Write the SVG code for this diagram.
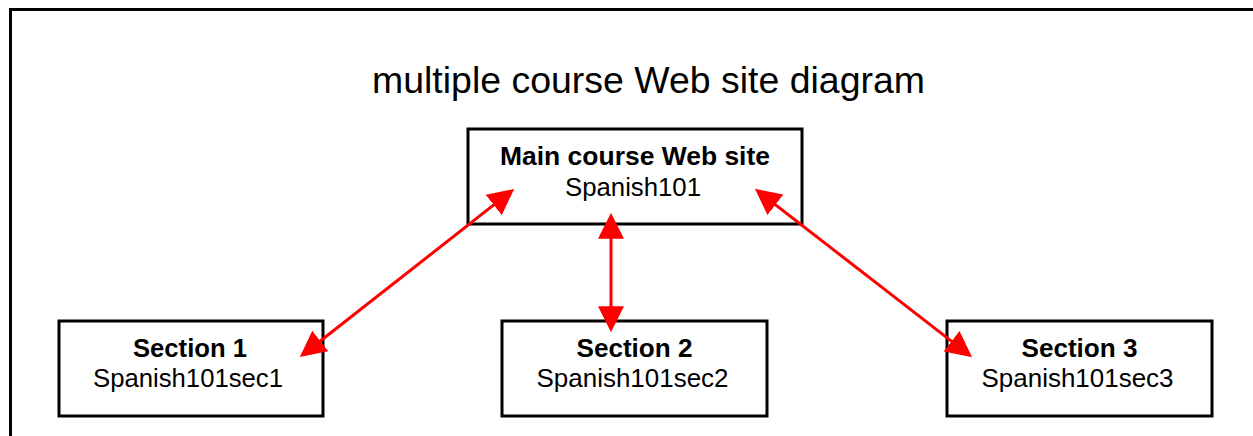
<svg xmlns="http://www.w3.org/2000/svg" width="1253" height="436" viewBox="0 0 1253 436">
  <style>
    .frame { fill: none; stroke: #000; stroke-width: 3; }
    .box { fill: #fff; stroke: #000; stroke-width: 3; }
    .t { font-family: "Liberation Sans", Arial, sans-serif; fill: #000; text-anchor: middle; }
    .title { font-size: 36px; }
    .bold { font-size: 25px; font-weight: bold; }
    .reg { font-size: 25px; }
    .link { stroke: #ff0000; stroke-width: 3; fill: none; marker-start: url(#head); marker-end: url(#head); }
  </style>
  <defs>
    <marker id="head" markerUnits="userSpaceOnUse" markerWidth="26" markerHeight="26" viewBox="0 0 25 25" refX="21" refY="12.5" orient="auto-start-reverse">
      <path d="M0,0 L25,12.5 L0,25 z" fill="#ff0000"/>
    </marker>
  </defs>

  <rect class="frame" x="10.5" y="9.5" width="1260" height="440"/>

  <text class="t title" x="648.5" y="93" textLength="553" lengthAdjust="spacingAndGlyphs">multiple course Web site diagram</text>

  <g id="main">
    <rect class="box" x="468" y="129" width="334" height="95"/>
    <text class="t bold" x="635" y="165" textLength="270" lengthAdjust="spacingAndGlyphs">Main course Web site</text>
    <text class="t reg" x="633" y="196" textLength="136" lengthAdjust="spacingAndGlyphs">Spanish101</text>
  </g>

  <g id="section1">
    <rect class="box" x="59" y="321" width="264" height="95"/>
    <text class="t bold" x="190" y="357" textLength="114" lengthAdjust="spacingAndGlyphs">Section 1</text>
    <text class="t reg" x="188" y="387" textLength="190" lengthAdjust="spacingAndGlyphs">Spanish101sec1</text>
  </g>

  <g id="section2">
    <rect class="box" x="502" y="321" width="265" height="95"/>
    <text class="t bold" x="634.5" y="357" textLength="116" lengthAdjust="spacingAndGlyphs">Section 2</text>
    <text class="t reg" x="632.5" y="387" textLength="192" lengthAdjust="spacingAndGlyphs">Spanish101sec2</text>
  </g>

  <g id="section3">
    <rect class="box" x="947" y="321" width="265" height="95"/>
    <text class="t bold" x="1079.5" y="357" textLength="116" lengthAdjust="spacingAndGlyphs">Section 3</text>
    <text class="t reg" x="1077.5" y="387" textLength="192" lengthAdjust="spacingAndGlyphs">Spanish101sec3</text>
  </g>

  <g id="connectors">
    <line class="link" x1="510.9" y1="191.5" x2="303.1" y2="354.5"/>
    <line class="link" x1="611" y1="217" x2="611" y2="328"/>
    <line class="link" x1="758.2" y1="191.4" x2="968.8" y2="354.6"/>
  </g>
</svg>
